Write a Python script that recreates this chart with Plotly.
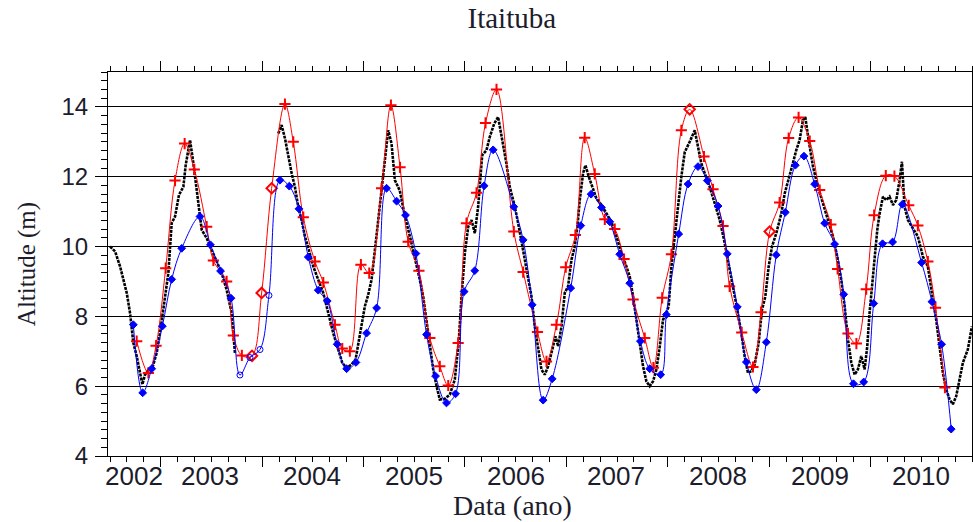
import plotly.graph_objects as go

# ---------------- data (decimal year, altitude in m) ----------------
black_year = [2002.500, 2002.550, 2002.599, 2002.632, 2002.665, 2002.697, 2002.730, 2002.763, 2002.796, 2002.819,
              2002.845, 2002.878, 2002.917, 2002.960, 2002.993, 2003.036, 2003.075, 2003.108, 2003.141, 2003.180,
              2003.223, 2003.246, 2003.289, 2003.322, 2003.354, 2003.387, 2003.404, 2003.453, 2003.502, 2003.551,
              2003.601, 2003.650, 2003.699, 2003.732, 2003.950,
              2004.159, 2004.192, 2004.225, 2004.258, 2004.291, 2004.323, 2004.356, 2004.389, 2004.422, 2004.461,
              2004.504, 2004.553, 2004.603, 2004.652, 2004.701, 2004.751, 2004.790, 2004.833, 2004.882, 2004.921,
              2004.964, 2005.013, 2005.046, 2005.079, 2005.112, 2005.145, 2005.178, 2005.210, 2005.243, 2005.276,
              2005.309, 2005.358, 2005.408, 2005.457, 2005.506, 2005.555, 2005.588, 2005.621, 2005.654, 2005.687,
              2005.720, 2005.752, 2005.802, 2005.851, 2005.900, 2005.940, 2005.966, 2005.999, 2006.032, 2006.065,
              2006.097, 2006.130, 2006.170, 2006.212, 2006.245, 2006.288, 2006.327, 2006.367, 2006.409, 2006.442,
              2006.492, 2006.531, 2006.574, 2006.613, 2006.656, 2006.689, 2006.722, 2006.754, 2006.787, 2006.820,
              2006.869, 2006.892, 2006.919, 2006.952, 2006.984, 2007.017, 2007.050, 2007.083, 2007.109, 2007.132,
              2007.165, 2007.188, 2007.221, 2007.254, 2007.296, 2007.346, 2007.395, 2007.444, 2007.494, 2007.543,
              2007.592, 2007.625, 2007.658, 2007.691, 2007.723, 2007.756, 2007.789, 2007.822, 2007.855, 2007.888,
              2007.921, 2007.953, 2007.986, 2008.009, 2008.036, 2008.068, 2008.101, 2008.134, 2008.167, 2008.216,
              2008.266, 2008.298, 2008.331, 2008.364, 2008.413, 2008.463, 2008.512, 2008.555, 2008.594, 2008.643,
              2008.686, 2008.725, 2008.758, 2008.791, 2008.824, 2008.857, 2008.896, 2008.929, 2008.962, 2008.995,
              2009.028, 2009.070, 2009.120, 2009.153, 2009.192, 2009.225, 2009.267, 2009.300, 2009.333, 2009.356,
              2009.389, 2009.432, 2009.481, 2009.530, 2009.580, 2009.629, 2009.671, 2009.711, 2009.744, 2009.777,
              2009.810, 2009.843, 2009.875, 2009.908, 2009.941, 2009.967, 2009.990, 2010.013, 2010.039, 2010.066,
              2010.089, 2010.122, 2010.154, 2010.187, 2010.220, 2010.253, 2010.286, 2010.309, 2010.335, 2010.368,
              2010.417, 2010.466, 2010.516, 2010.565, 2010.604, 2010.647, 2010.680, 2010.713, 2010.746, 2010.779,
              2010.811, 2010.844, 2010.877, 2010.910, 2010.959, 2010.999]
black_level = [10.00, 9.86, 9.43, 9.05, 8.67, 8.10, 7.24, 6.86, 6.38, 6.05,
               6.33, 6.46, 6.52, 6.95, 7.52, 8.48, 9.24, 10.67, 10.86, 11.48,
               11.71, 12.33, 13.05, 12.38, 11.62, 10.95, 10.48, 10.24, 9.90, 9.57,
               9.24, 8.76, 8.10, 6.95, None,
               13.24, 13.48, 13.10, 12.57, 12.10, 11.71, 11.14, 10.76, 10.29, 9.90,
               9.43, 9.05, 8.67, 8.10, 7.52, 7.05, 6.67, 6.52, 6.62, 6.76,
               7.43, 8.29, 8.62, 9.05, 9.90, 10.76, 11.52, 12.29, 13.33, 12.95,
               11.90, 11.60, 10.86, 10.29, 9.71, 9.05, 8.57, 7.90, 7.24, 6.48,
               6.00, 5.62, 5.64, 5.76, 6.19, 7.33, 8.57, 9.81, 10.57, 10.76,
               10.38, 11.14, 12.62, 12.76, 13.14, 13.52, 13.71, 13.05, 12.38, 11.71,
               11.14, 10.57, 9.90, 9.33, 8.57, 7.71, 7.05, 6.48, 6.33, 6.57,
               7.14, 7.43, 7.14, 7.71, 8.67, 8.86, 9.62, 10.00, 10.57, 11.33,
               12.10, 12.33, 12.00, 11.71, 11.38, 11.19, 10.95, 10.71, 10.29, 9.81,
               9.43, 9.14, 8.57, 7.90, 7.24, 6.57, 6.14, 6.00, 6.14, 6.48,
               7.14, 7.90, 8.10, 8.29, 9.43, 10.19, 11.14, 12.00, 12.70, 13.00,
               13.33, 12.86, 12.38, 12.10, 11.71, 11.24, 10.76, 10.19, 9.62, 8.86,
               8.19, 7.52, 6.86, 6.38, 6.43, 6.62, 7.24, 8.19, 8.57, 9.43,
               10.00, 10.38, 10.95, 11.52, 11.90, 12.29, 12.76, 13.05, 13.62, 13.71,
               13.05, 12.29, 11.71, 11.24, 10.76, 10.29, 9.71, 9.05, 8.29, 7.33,
               6.67, 6.33, 6.48, 6.86, 6.48, 7.14, 8.10, 8.86, 9.62, 10.48,
               10.95, 11.43, 11.33, 11.43, 11.19, 11.33, 11.90, 12.43, 11.14, 10.76,
               10.52, 10.29, 9.71, 9.43, 8.67, 7.90, 7.14, 6.38, 5.90, 5.62,
               5.48, 5.71, 6.19, 6.67, 7.05, 7.71]

red_year = [2002.763, 2002.878, 2002.954, 2003.049, 2003.141, 2003.236, 2003.331, 2003.453, 2003.519, 2003.650,
            2003.716, 2003.800, 2003.900, 2003.995, 2004.094, 2004.225, 2004.307, 2004.406, 2004.521, 2004.603,
            2004.718, 2004.790, 2004.865, 2004.974, 2005.056, 2005.178, 2005.270, 2005.360, 2005.440, 2005.546,
            2005.654, 2005.752, 2005.835, 2005.933, 2006.015, 2006.114, 2006.203, 2006.311, 2006.482, 2006.574,
            2006.715, 2006.804, 2006.902, 2006.994, 2007.089, 2007.181, 2007.280, 2007.379, 2007.477, 2007.569,
            2007.658, 2007.773, 2007.858, 2007.945, 2008.036, 2008.134, 2008.216, 2008.357, 2008.446, 2008.545,
            2008.610, 2008.729, 2008.840, 2008.920, 2009.005, 2009.103, 2009.192, 2009.290, 2009.400, 2009.498,
            2009.608, 2009.675, 2009.777, 2009.860, 2009.957, 2010.035, 2010.150, 2010.235, 2010.376, 2010.466,
            2010.565, 2010.640, 2010.733]
red_level = [7.29, 6.38, 7.16, 9.38, 11.89, 12.95, 12.21, 10.57, 9.60, 9.00,
             7.45, 6.88, 6.87, 8.67, 11.67, 14.08, 13.00, 10.84, 9.57, 8.97,
             7.76, 7.08, 7.00, 9.48, 9.24, 11.67, 14.05, 12.27, 10.14, 9.31,
             7.38, 6.57, 6.02, 7.24, 10.67, 11.54, 13.54, 14.50, 10.43, 9.27,
             7.55, 6.71, 7.76, 9.41, 10.33, 13.12, 12.08, 10.78, 10.50, 9.64,
             8.48, 7.38, 6.53, 8.53, 9.78, 13.33, 13.93, 12.58, 11.64, 10.59,
             8.86, 7.54, 6.55, 8.12, 10.43, 11.26, 13.11, 13.70, 13.02, 11.62,
             10.63, 9.36, 7.51, 7.22, 8.78, 10.90, 12.03, 12.02, 11.18, 10.60,
             9.57, 8.25, 5.96]
red_open_idx = [12, 13, 14, 56, 64]

blue_year = [2002.730, 2002.822, 2002.911, 2003.016, 2003.108, 2003.207, 2003.387, 2003.490, 2003.590, 2003.693,
             2003.781, 2003.880, 2003.979, 2004.067, 2004.176, 2004.268, 2004.363, 2004.455, 2004.553, 2004.642,
             2004.740, 2004.833, 2004.925, 2005.030, 2005.129, 2005.227, 2005.326, 2005.414, 2005.516, 2005.621,
             2005.710, 2005.818, 2005.907, 2005.992, 2006.097, 2006.189, 2006.278, 2006.482, 2006.574, 2006.663,
             2006.771, 2006.860, 2007.043, 2007.142, 2007.244, 2007.346, 2007.428, 2007.526, 2007.625, 2007.730,
             2007.822, 2007.930, 2007.986, 2008.108, 2008.200, 2008.298, 2008.390, 2008.496, 2008.587, 2008.686,
             2008.775, 2008.873, 2008.972, 2009.070, 2009.159, 2009.258, 2009.343, 2009.448, 2009.547, 2009.645,
             2009.735, 2009.831, 2009.932, 2010.031, 2010.118, 2010.217, 2010.313, 2010.503, 2010.605, 2010.700,
             2010.795]
blue_level = [7.76, 5.81, 6.50, 7.72, 9.06, 9.95, 10.86, 10.05, 9.30, 8.52,
              6.32, 6.82, 7.05, 8.60, 11.90, 11.73, 11.08, 9.70, 8.75, 8.44,
              7.20, 6.50, 6.68, 7.52, 8.24, 11.67, 11.30, 10.90, 9.80, 7.48,
              6.29, 5.52, 5.78, 8.71, 9.31, 11.74, 12.77, 11.14, 10.19, 8.33,
              5.60, 6.21, 8.81, 10.60, 11.50, 11.12, 10.71, 9.78, 8.95, 7.29,
              6.50, 6.33, 8.05, 10.36, 11.79, 12.29, 11.89, 11.16, 9.79, 8.27,
              6.69, 5.90, 7.26, 9.76, 10.98, 12.33, 12.59, 11.79, 10.67, 10.07,
              8.63, 6.07, 6.12, 8.37, 10.08, 10.13, 11.21, 9.54, 8.42, 7.20,
              4.77]
blue_open_idx = [10, 11, 12, 13]

year_ticks = [2003, 2004, 2005, 2006, 2007, 2008, 2009, 2010]
year_label_pos = [2002.737, 2003.49, 2004.49, 2005.496, 2006.50, 2007.49, 2008.50, 2009.505, 2010.50]
year_label_text = ["2002", "2003", "2004", "2005", "2006", "2007", "2008", "2009", "2010"]
y_ticks = [4, 6, 8, 10, 12, 14]
x_range = [2002.48, 2011.0]

# ---------------- figure ----------------
SERIF = "Liberation Serif, Times New Roman, serif"
SANS = "Liberation Sans, Arial, sans-serif"
TXT = "#1c1c2c"

fig = go.Figure()

fig.add_trace(go.Scatter(
    x=black_year, y=black_level, mode="lines", connectgaps=False,
    line=dict(color="black", width=2.6, dash="3px,1px"), showlegend=False, hoverinfo="skip"))

red_sym = ["diamond-open" if i in red_open_idx else "cross-thin" for i in range(len(red_year))]
fig.add_trace(go.Scatter(
    x=red_year, y=red_level, mode="lines+markers",
    line=dict(color="#ff0000", width=1, shape="spline"),
    marker=dict(symbol=red_sym, size=8, color="#ff0000", line=dict(color="#ff0000", width=2)),
    showlegend=False))

blue_sym = ["circle-open" if i in blue_open_idx else "diamond" for i in range(len(blue_year))]
fig.add_trace(go.Scatter(
    x=blue_year, y=blue_level, mode="lines+markers",
    line=dict(color="#0000ff", width=1, shape="spline"),
    marker=dict(symbol=blue_sym, size=6, color="#0000ff", line=dict(color="#0000ff", width=1)),
    showlegend=False))

# invisible trace so the top tick axis is drawn
fig.add_trace(go.Scatter(x=[x_range[0]], y=[None], xaxis="x2", mode="markers",
                         showlegend=False, hoverinfo="skip"))

for pos, txt in zip(year_label_pos, year_label_text):
    fig.add_annotation(x=pos, y=-0.052, xref="x", yref="paper", text=txt, showarrow=False,
                       xanchor="center", yanchor="middle", font=dict(family=SANS, size=26, color=TXT))

fig.add_annotation(x=(512 - 108) / 864, y=-0.128, xref="paper", yref="paper", text="Data (ano)",
                   showarrow=False, xanchor="center", yanchor="middle",
                   font=dict(family=SERIF, size=28, color=TXT))

tick_common = dict(
    range=x_range, tickmode="array", tickvals=year_ticks,
    showticklabels=False, ticks="outside", ticklen=10, tickwidth=1, tickcolor="black",
    showgrid=False, zeroline=False,
    minor=dict(tickmode="linear", tick0=2002, dtick=1/6, ticks="outside", ticklen=5,
               tickwidth=1, tickcolor="black", showgrid=False),
)

fig.update_layout(
    width=973, height=522,
    margin=dict(l=108, r=1, t=72, b=66),
    paper_bgcolor="white", plot_bgcolor="white",
    title=dict(text="Itaituba", x=0.526, xanchor="center", y=0.965, yanchor="middle",
               font=dict(family=SERIF, size=29, color=TXT)),
    xaxis=dict(showline=True, linecolor="black", linewidth=1, mirror=True, **tick_common),
    xaxis2=dict(overlaying="x", side="top", anchor="y", showline=False, **tick_common),
    yaxis=dict(
        range=[4, 15], tickmode="array", tickvals=y_ticks,
        ticks="outside", ticklen=12, tickwidth=1, tickcolor="black", ticklabelstandoff=2,
        showline=True, linecolor="black", linewidth=1, mirror=True,
        showgrid=True, gridcolor="black", gridwidth=1, zeroline=False,
        tickfont=dict(family=SANS, size=24, color=TXT),
        minor=dict(tickmode="linear", tick0=4, dtick=0.25, ticks="outside", ticklen=6,
                   tickwidth=1, tickcolor="black", showgrid=False),
        title=dict(text="Altitude (m)", standoff=18, font=dict(family=SERIF, size=25, color=TXT)),
    ),
)

fig.write_html("out.html")
